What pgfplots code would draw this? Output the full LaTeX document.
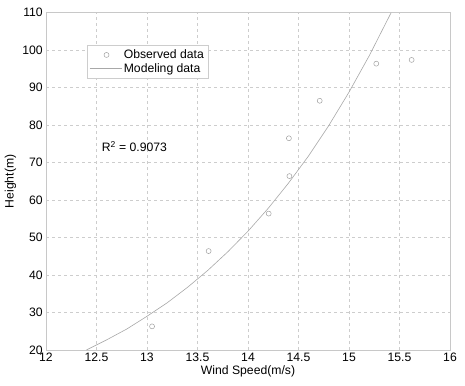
\documentclass[border=0pt]{standalone}
\usepackage{pgfplots}
\pgfplotsset{compat=1.18}
\usepackage{fontspec}
\setmainfont{Liberation Sans}
\definecolor{gridc}{HTML}{CDCDCD}
\definecolor{framec}{HTML}{C8C8C8}
\definecolor{curvec}{HTML}{A8A8A8}
\definecolor{markc}{HTML}{A0A0A0}
\begin{document}
\fontsize{12.2}{14}\selectfont
\begin{tikzpicture}
\begin{axis}[
  scale only axis,
  width=404pt, height=337.3pt,
  xmin=12, xmax=16, ymin=20, ymax=110,
  xtick={12,12.5,...,16}, ytick={20,30,...,110},
  xticklabels={12,12.5,13,13.5,14,14.5,15,15.5,16},
  /pgf/number format/assume math mode=true,
  tick label style={font=\fontsize{12.2}{14}\selectfont},
  label style={font=\fontsize{12.2}{14}\selectfont},
  grid=major,
  major grid style={gridc, line width=0.6pt, dash pattern=on 3pt off 3pt},
  axis line style={framec, line width=0.6pt},
  major tick length=0pt,
  xlabel={Wind Speed(m/s)}, ylabel={Height(m)},
  xlabel style={yshift=5pt},
  ylabel style={yshift=-2pt},
  xticklabel style={yshift=1pt},
  yticklabel style={xshift=1pt},
  legend style={at={(axis cs:12.405,101.3)}, anchor=north west, draw=gridc, line width=0.6pt,
    font=\fontsize{12.2}{14}\selectfont, row sep=-1pt, inner sep=2pt},
  legend cell align=left,
  legend image code/.code={\draw[#1] (-2pt,0cm) -- (30pt,0cm);},
]
\addplot[only marks, mark=o, mark size=2.5pt, draw=markc, line width=0.5pt,
  legend image code/.code={\draw[markc, line width=0.5pt] (15pt,0cm) circle (2.5pt);}]
  coordinates {
  (13.05,26.3) (13.61,46.4) (14.205,56.4) (14.41,66.4) (14.405,76.5)
  (14.71,86.5) (15.27,96.4) (15.62,97.4)
  };
\addlegendentry{Observed data}
\addplot[curvec, line width=0.6pt] coordinates {
  (12.4,20) (12.6,22.7) (12.8,25.6) (13.0,29.0) (13.2,32.6) (13.4,36.7)
  (13.6,41.2) (13.8,46.2) (14.0,51.7) (14.2,57.8) (14.4,64.5) (14.6,71.8)
  (14.8,79.9) (15.0,88.8) (15.2,98.5) (15.4,109.1) (15.417,110)
  };
\addlegendentry{Modeling data}
\node[anchor=west, inner sep=0pt] at (axis cs:12.55,74.2) {R\textsuperscript{2} = 0.9073};
\end{axis}
\pgfresetboundingbox
\path[use as bounding box] ([shift={(-46pt,-35pt)}]current axis.south west) rectangle ([shift={(15pt,12.7pt)}]current axis.north east);
\end{tikzpicture}
\end{document}
